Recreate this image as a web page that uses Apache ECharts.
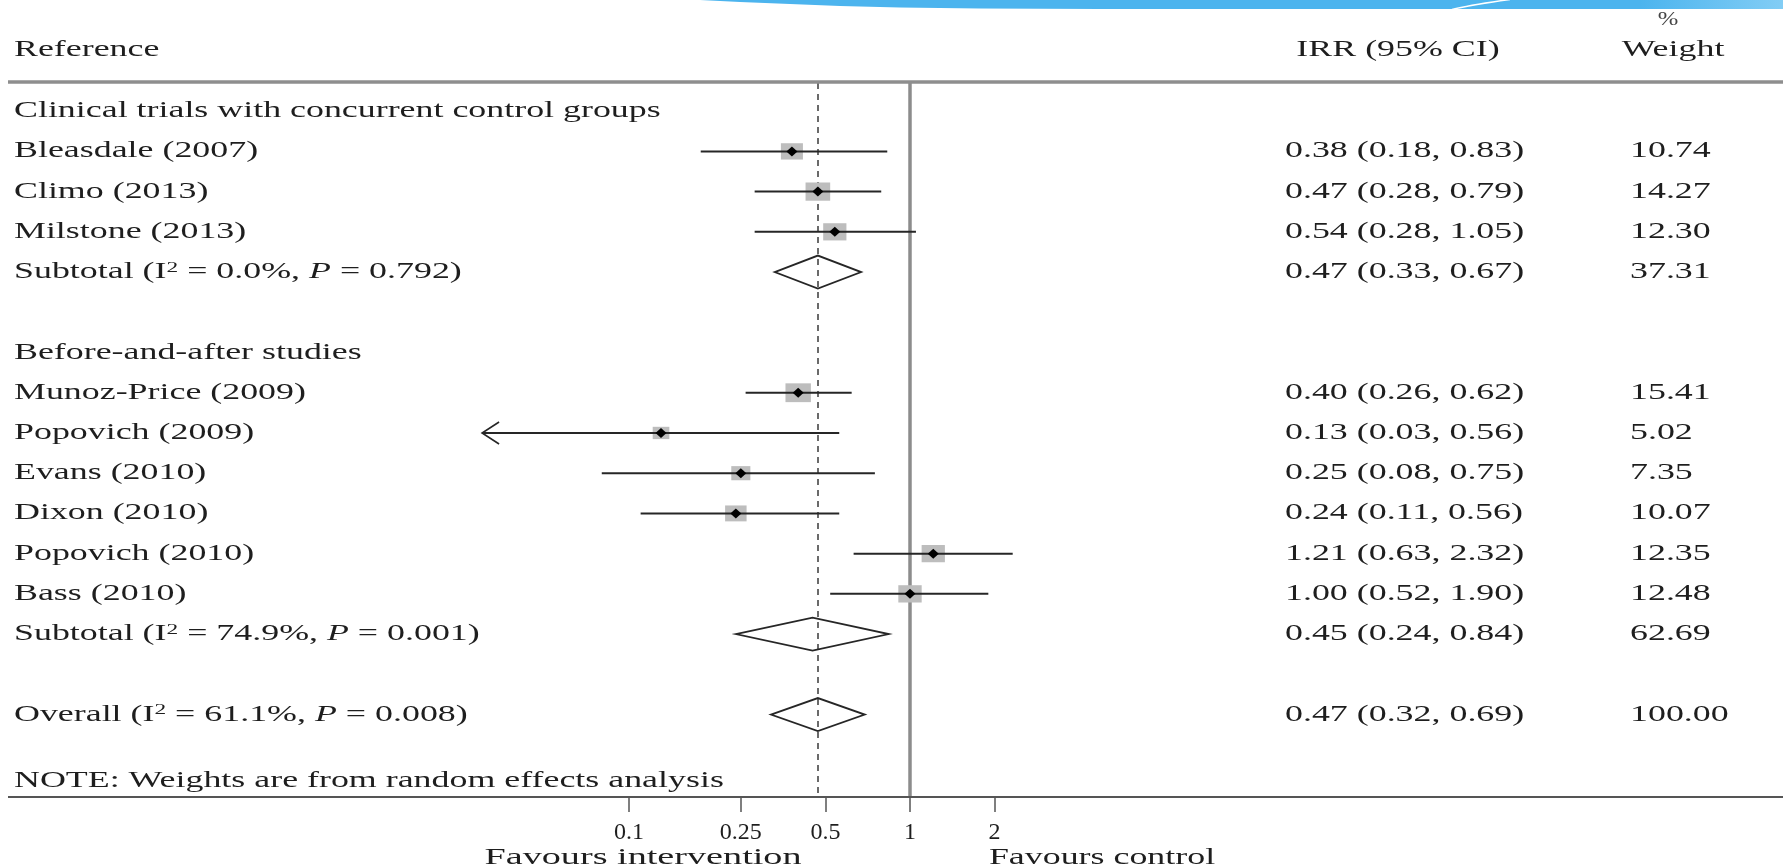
<!DOCTYPE html>
<html>
<head>
<meta charset="utf-8">
<script src="https://cdn.jsdelivr.net/npm/echarts@6/dist/echarts.min.js"></script>
<style>html,body{margin:0;padding:0;background:#fff}#c{width:1783px;height:866px}</style>
</head>
<body>
<div id="c"></div>
<script>
// ---- data ----
const rowLabels = [
  'Clinical trials with concurrent control groups',
  'Bleasdale (2007)',
  'Climo (2013)',
  'Milstone (2013)',
  'Subtotal (I{sup|2} = 0.0%, {it|P} = 0.792)',
  '',
  'Before-and-after studies',
  'Munoz-Price (2009)',
  'Popovich (2009)',
  'Evans (2010)',
  'Dixon (2010)',
  'Popovich (2010)',
  'Bass (2010)',
  'Subtotal (I{sup|2} = 74.9%, {it|P} = 0.001)',
  '',
  'Overall (I{sup|2} = 61.1%, {it|P} = 0.008)'
];
// 0 = heading/blank, 1 = study, 2 = pooled estimate
const rowKind  = [0, 1, 1, 1, 2, 0, 0, 1, 1, 1, 1, 1, 1, 2, 0, 2];
const irr      = [null, 0.38, 0.47, 0.54, 0.47, null, null, 0.40, 0.13, 0.25, 0.24, 1.21, 1.00, 0.45, null, 0.47];
const ciLower  = [null, 0.18, 0.28, 0.28, 0.33, null, null, 0.26, 0.03, 0.08, 0.11, 0.63, 0.52, 0.24, null, 0.32];
const ciUpper  = [null, 0.83, 0.79, 1.05, 0.67, null, null, 0.62, 0.56, 0.75, 0.56, 2.32, 1.90, 0.84, null, 0.69];
const weights  = [null, 10.74, 14.27, 12.30, 37.31, null, null, 15.41, 5.02, 7.35, 10.07, 12.35, 12.48, 62.69, null, 100.00];
const tickValues = [0.1, 0.25, 0.5, 1, 2];
const overallIRR = 0.47;
const nullEffect = 1;
const plotRangeMin = 0.05;   // CIs below this are drawn with an arrow

// ---- styling ----
const FONT = 'Liberation Serif, Times New Roman, serif';
const FS = 23;
const SX = 1.56;
const TXT = '#1e1e1e';
const rich = {
  sup: {fontSize: 15, fontFamily: FONT, fill: TXT, verticalAlign: 'top', lineHeight: 15},
  it:  {fontSize: FS, fontFamily: FONT, fill: TXT, fontStyle: 'italic'}
};

const markData = [];
const textData = [];
rowLabels.forEach((lab, r) => {
  textData.push([1, r]);
  if (irr[r] != null) markData.push([irr[r], r, ciLower[r], ciUpper[r], weights[r], rowKind[r]]);
});

function txt(x, y, s, align) {
  return {type: 'text', x: x, y: y, scaleX: SX,
    style: {text: s, x: 0, y: 0, fontSize: FS, fontFamily: FONT, fill: TXT,
      align: align || 'left', verticalAlign: 'middle', rich: rich}};
}

function renderText(params, api) {
  const r = api.value(1);
  const y = api.coord([1, r])[1];
  const ch = [];
  if (rowLabels[r]) ch.push(txt(14, y, rowLabels[r]));
  if (irr[r] != null) {
    ch.push(txt(1285, y, irr[r].toFixed(2) + ' (' + ciLower[r].toFixed(2) + ', ' + ciUpper[r].toFixed(2) + ')'));
    ch.push(txt(1630, y, weights[r].toFixed(2)));
  }
  return {type: 'group', children: ch};
}

function renderMarks(params, api) {
  const est = api.value(0), r = api.value(1), lo = api.value(2), hi = api.value(3), w = api.value(4), kind = api.value(5);
  const c = api.coord([est, r]);
  const pl = api.coord([lo, r]);
  const ph = api.coord([hi, r]);
  const ch = [];
  const ink = '#262626';
  if (kind === 2) {
    const top = api.coord([est, r - 0.41]);
    const bot = api.coord([est, r + 0.41]);
    ch.push({type: 'polygon', shape: {points: [pl, top, ph, bot]},
      style: {fill: 'rgba(255,255,255,0)', stroke: ink, lineWidth: 1.8}});
  } else {
    const s = 5 + 5.2 * Math.sqrt(w);
    const h = s * 0.74;
    ch.push({type: 'rect', shape: {x: c[0] - s / 2, y: c[1] - h / 2, width: s, height: h},
      style: {fill: '#bdbdbd'}});
    ch.push({type: 'line', shape: {x1: pl[0], y1: pl[1], x2: ph[0], y2: ph[1]},
      style: {stroke: ink, lineWidth: 2}});
    if (lo < plotRangeMin) {
      ch.push({type: 'polyline', shape: {points: [[pl[0] + 17, pl[1] - 11], pl, [pl[0] + 17, pl[1] + 11]]},
        style: {stroke: ink, lineWidth: 1.6, fill: null}});
    }
    ch.push({type: 'polygon', shape: {points: [[c[0] - 5.5, c[1]], [c[0], c[1] - 5], [c[0] + 5.5, c[1]], [c[0], c[1] + 5]]},
      style: {fill: '#000'}});
  }
  return {type: 'group', children: ch};
}

const chart = echarts.init(document.getElementById('c'), null, {renderer: 'canvas'});

const bandLower = [[700,0],[740,2],[790,4],[840,6],[900,7.5],[980,8.5],[1100,9],[1783,9]];
const bandPts = [[700,-1]].concat(bandLower).concat([[1783,-1]]);

chart.setOption({
  backgroundColor: '#ffffff',
  animation: false,
  grid: {left: 348, right: 30, top: 83, bottom: 69, containLabel: false, outerBoundsMode: 'none'},
  xAxis: {
    type: 'log', logBase: 10, min: 0.01, max: 1000,
    axisLine: {show: false, onZero: false},
    splitLine: {show: false},
    minorTick: {show: false},
    axisTick: {show: true, customValues: tickValues, length: 15, lineStyle: {color: '#555', width: 1.5}},
    axisLabel: {show: true, customValues: tickValues, margin: 24, fontSize: 24, fontFamily: FONT, color: TXT,
      formatter: v => String(v)}
  },
  yAxis: {type: 'value', inverse: true, min: -0.7, max: 17.05, show: false},
  series: [
    {
      type: 'custom', name: 'estimates', renderItem: renderMarks, data: markData, clip: false,
      encode: {x: 0, y: 1}, z: 3,
      markLine: {
        silent: true, symbol: 'none', label: {show: false}, animation: false, z: 1,
        data: [
          {xAxis: nullEffect, lineStyle: {color: '#8c8c8c', width: 3.5, type: 'solid'}},
          {xAxis: overallIRR, lineStyle: {color: '#3a3a3a', width: 1.5, type: [6, 5]}}
        ]
      }
    },
    {type: 'custom', name: 'text', renderItem: renderText, data: textData, clip: false, encode: {x: 0, y: 1}, z: 4}
  ],
  graphic: [
    {type: 'polygon', shape: {points: bandPts}, style: {fill: '#4cb4ee'}, z: 10},
    {type: 'rect', shape: {x: 1640, y: 0, width: 143, height: 9},
      style: {fill: new echarts.graphic.LinearGradient(0, 0, 1, 0, [{offset: 0, color: 'rgba(130,205,245,0)'}, {offset: 1, color: 'rgba(130,205,245,1)'}])}, z: 11},
    {type: 'bezierCurve', shape: {x1: 1452, y1: 9.5, cpx1: 1470, cpy1: 5, x2: 1510, y2: -0.5}, style: {stroke: '#ffffff', lineWidth: 1.6, fill: null}, z: 12},
    {type: 'line', shape: {x1: 8, y1: 82, x2: 1783, y2: 82}, style: {stroke: '#8e8e8e', lineWidth: 3.5}, z: 2},
    {type: 'line', shape: {x1: 8, y1: 797, x2: 1783, y2: 797}, style: {stroke: '#555555', lineWidth: 2}, z: 2},
    {type: 'text', x: 14, y: 50, scaleX: SX, style: {text: 'Reference', fontSize: FS, fontFamily: FONT, fill: TXT, align: 'left', verticalAlign: 'middle'}},
    {type: 'text', x: 1398, y: 50, scaleX: SX, style: {text: 'IRR (95% CI)', fontSize: FS, fontFamily: FONT, fill: TXT, align: 'center', verticalAlign: 'middle'}},
    {type: 'text', x: 1673, y: 50, scaleX: SX, style: {text: 'Weight', fontSize: FS, fontFamily: FONT, fill: TXT, align: 'center', verticalAlign: 'middle'}},
    {type: 'text', x: 1668, y: 20, scaleX: 1.3, style: {text: '%', fontSize: 19, fontFamily: FONT, fill: '#444', align: 'center', verticalAlign: 'middle'}},
    {type: 'text', x: 14, y: 781, scaleX: SX, style: {text: 'NOTE: Weights are from random effects analysis', fontSize: FS, fontFamily: FONT, fill: TXT, align: 'left', verticalAlign: 'middle'}},
    {type: 'text', x: 643, y: 858, scaleX: 1.66, style: {text: 'Favours intervention', fontSize: FS, fontFamily: FONT, fill: TXT, align: 'center', verticalAlign: 'middle'}},
    {type: 'text', x: 1102, y: 858, scaleX: SX, style: {text: 'Favours control', fontSize: FS, fontFamily: FONT, fill: TXT, align: 'center', verticalAlign: 'middle'}}
  ]
});
</script>
</body>
</html>
